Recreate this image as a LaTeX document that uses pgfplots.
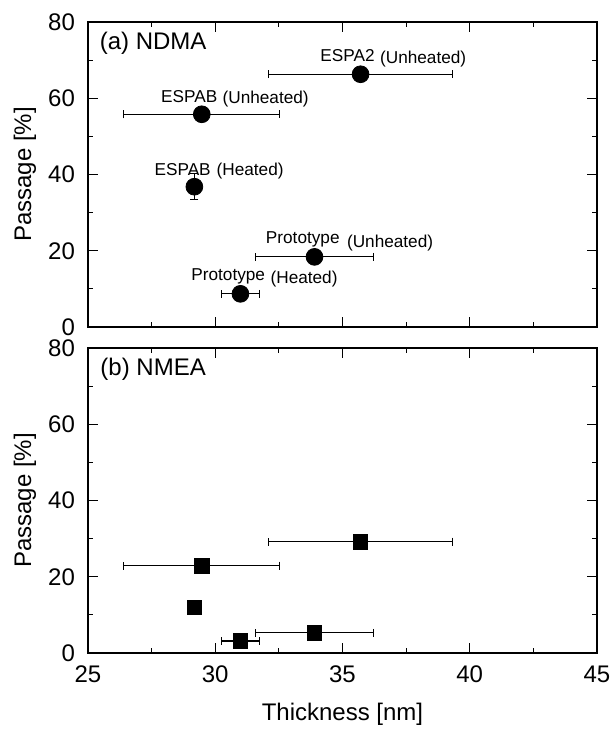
\documentclass[border=0pt]{standalone}
\usepackage{fontspec}
\setmainfont{Liberation Sans}
\usepackage{pgfplots}
\pgfplotsset{compat=1.18}
\usepackage{pgfplotstable}

% x, y, x error, y error
\pgfplotstableread{
x     y     ex    ey
35.71 66.3  3.62  0
29.47 55.8  3.07  0
29.18 36.8  0     3.4
33.90 18.4  2.33  0
30.99 8.7   0.75  0
}\ndma

\pgfplotstableread{
x     y     ex    ey
35.71 29.2  3.62  0
29.47 22.9  3.07  0
29.18 12.0  0     0
33.90 5.3   2.33  0
30.99 3.15  0.75  0
}\nmea

\pgfplotsset{
  panel/.style={
    scale only axis,
    width=254.5pt, height=152.5pt,
    xmin=25, xmax=45, ymin=0, ymax=80,
    xtick={25,30,...,45}, ytick={0,20,...,80},
    minor xtick={27.5,32.5,37.5,42.5},
    minor ytick={10,30,50,70},
    tick align=inside,
    major tick length=5pt, minor tick length=2.5pt,
    every tick/.style={black, line width=0.6pt},
    axis line style={line width=0.9pt},
    /pgf/number format/assume math mode=true,
    tick label style={font=\fontsize{12}{14}\selectfont},
    label style={font=\fontsize{12}{14}\selectfont},
    yticklabel style={xshift=-3pt},
    xticklabel style={yshift=-3pt},
    ylabel={Passage [\%]},
    ylabel style={at={(axis description cs:-0.124,0.5)}, anchor=center},
    clip=false,
  },
  ebar/.style={
    only marks, black,
    error bars/.cd,
      x dir=both, x explicit, y dir=both, y explicit,
      error bar style={line width=0.55pt},
      error mark options={rotate=90, mark size=2pt, line width=0.55pt},
  },
}

\begin{document}
\begin{tikzpicture}
\useasboundingbox (-44pt,-201pt) rectangle (262pt,163.5pt);

\begin{axis}[panel, xticklabels={}]
  \addplot[mark=*, mark size=4.2pt, ebar]
    table[x=x, y=y, x error=ex, y error=ey] {\ndma};
  \node[font=\fontsize{12}{14}\selectfont] at (axis cs:27.56,74.4) {(a) NDMA};
  \begin{scope}[font=\fontsize{8.6}{10}\selectfont, inner sep=0pt]
    \node at (axis cs:35.2,71.1) {ESPA2};
    \node at (axis cs:38.17,70.3) {(Unheated)};
    \node at (axis cs:28.98,60.4) {ESPAB};
    \node at (axis cs:31.98,59.7) {(Unheated)};
    \node at (axis cs:28.72,41.4) {ESPAB};
    \node at (axis cs:31.37,40.9) {(Heated)};
    \node at (axis cs:33.44,23.1) {Prototype};
    \node at (axis cs:36.87,22.1) {(Unheated)};
    \node at (axis cs:30.51,13.4) {Prototype};
    \node at (axis cs:33.49,12.5) {(Heated)};
  \end{scope}
\end{axis}

\begin{axis}[panel, at={(0,-10.5pt)}, anchor=north west,
    xlabel={Thickness [nm]},
    xlabel style={at={(axis description cs:0.5,-0.2)}, anchor=center}]
  \addplot[mark=square*, mark size=3.65pt, ebar]
    table[x=x, y=y, x error=ex, y error=ey] {\nmea};
  \node[font=\fontsize{12}{14}\selectfont] at (axis cs:27.56,74.4) {(b) NMEA};
\end{axis}
\end{tikzpicture}
\end{document}
